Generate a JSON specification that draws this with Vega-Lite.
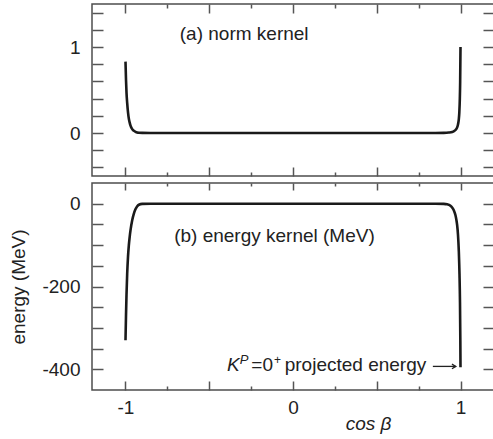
{
  "$schema": "https://vega.github.io/schema/vega-lite/v6.json",
  "padding": {"left": 9, "top": 2, "right": 0, "bottom": 0},
  "spacing": 3,
  "config": {
    "view": {"stroke": "#4d4d4d", "strokeWidth": 1.5},
    "font": "Liberation Sans",
    "axis": {
      "domain": false, "grid": false, "ticks": true,
      "tickColor": "#555555", "tickWidth": 1.5,
      "labelFont": "Liberation Sans", "labelFontSize": 19, "labelColor": "#222222",
      "titleFont": "Liberation Sans", "titleFontSize": 19, "titleFontWeight": "normal", "titleColor": "#222222"
    }
  },
  "datasets": {
    "norm": [
      {"cosb": -1, "v": 0.83}, {"cosb": -0.997, "v": 0.62}, {"cosb": -0.994, "v": 0.47},
      {"cosb": -0.99, "v": 0.35}, {"cosb": -0.985, "v": 0.24}, {"cosb": -0.98, "v": 0.165},
      {"cosb": -0.975, "v": 0.12}, {"cosb": -0.97, "v": 0.085}, {"cosb": -0.96, "v": 0.045},
      {"cosb": -0.95, "v": 0.025}, {"cosb": -0.94, "v": 0.013}, {"cosb": -0.93, "v": 0.006},
      {"cosb": -0.92, "v": 0.003}, {"cosb": -0.9, "v": 0.001}, {"cosb": -0.85, "v": 0},
      {"cosb": 0, "v": 0}, {"cosb": 0.85, "v": 0}, {"cosb": 0.9, "v": 0.001},
      {"cosb": 0.93, "v": 0.005}, {"cosb": 0.95, "v": 0.012}, {"cosb": 0.96, "v": 0.02},
      {"cosb": 0.97, "v": 0.035}, {"cosb": 0.98, "v": 0.065}, {"cosb": 0.985, "v": 0.1},
      {"cosb": 0.99, "v": 0.16}, {"cosb": 0.993, "v": 0.24}, {"cosb": 0.996, "v": 0.4},
      {"cosb": 0.998, "v": 0.6}, {"cosb": 1, "v": 1.0}
    ],
    "energy": [
      {"cosb": -1, "v": -330}, {"cosb": -0.997, "v": -270}, {"cosb": -0.994, "v": -220},
      {"cosb": -0.99, "v": -170}, {"cosb": -0.985, "v": -128}, {"cosb": -0.98, "v": -100},
      {"cosb": -0.975, "v": -80}, {"cosb": -0.97, "v": -64}, {"cosb": -0.96, "v": -40},
      {"cosb": -0.95, "v": -24}, {"cosb": -0.94, "v": -13}, {"cosb": -0.93, "v": -6},
      {"cosb": -0.92, "v": -2.5}, {"cosb": -0.9, "v": -0.5}, {"cosb": -0.85, "v": 0},
      {"cosb": 0, "v": 0}, {"cosb": 0.85, "v": 0}, {"cosb": 0.9, "v": -0.5},
      {"cosb": 0.92, "v": -1.5}, {"cosb": 0.94, "v": -5}, {"cosb": 0.95, "v": -9},
      {"cosb": 0.96, "v": -16}, {"cosb": 0.97, "v": -28}, {"cosb": 0.975, "v": -38},
      {"cosb": 0.98, "v": -52}, {"cosb": 0.985, "v": -75}, {"cosb": 0.99, "v": -115},
      {"cosb": 0.994, "v": -170}, {"cosb": 0.997, "v": -240}, {"cosb": 0.999, "v": -330},
      {"cosb": 1, "v": -395}
    ]
  },
  "vconcat": [
    {
      "width": 402, "height": 172,
      "layer": [
        {
          "data": {"name": "norm"},
          "mark": {"type": "line", "color": "#1a1a1a", "strokeWidth": 2.6, "interpolate": "monotone", "clip": true},
          "encoding": {
            "x": {"field": "cosb", "type": "quantitative",
              "scale": {"domain": [-1.2, 1.2], "nice": false, "zero": false},
              "axis": {"orient": "bottom", "values": [-1, -0.75, -0.5, -0.25, 0, 0.25, 0.5, 0.75, 1], "labels": false, "title": null,
                "tickSize": {"condition": {"test": "abs(datum.value) == 0.25 || abs(datum.value) == 0.75", "value": -4}, "value": -9}}},
            "y": {"field": "v", "type": "quantitative",
              "scale": {"domain": [-0.5, 1.5], "nice": false},
              "axis": {"orient": "left", "values": [-0.4, -0.2, 0, 0.2, 0.4, 0.6, 0.8, 1, 1.2, 1.4], "tickSize": -11, "labelPadding": 23,
                "labelExpr": "datum.value == 0 ? '0' : datum.value == 1 ? '1' : ''", "title": null}}
          }
        },
        {
          "data": {"name": "norm"},
          "mark": {"type": "line", "opacity": 0},
          "encoding": {
            "x": {"field": "cosb", "type": "quantitative",
              "axis": {"orient": "top", "values": [-1, -0.75, -0.5, -0.25, 0, 0.25, 0.5, 0.75, 1], "labels": false, "title": null,
                "tickSize": {"condition": {"test": "abs(datum.value) == 0.25 || abs(datum.value) == 0.75", "value": -4}, "value": -9}}},
            "y": {"field": "v", "type": "quantitative",
              "axis": {"orient": "right", "values": [-0.4, -0.2, 0, 0.2, 0.4, 0.6, 0.8, 1, 1.2, 1.4], "tickSize": -11, "labels": false, "title": null}}
          }
        },
        {
          "data": {"values": [{"x": -0.676, "y": 1.081, "label": "(a) norm kernel"}]},
          "mark": {"type": "text", "align": "left", "baseline": "alphabetic", "fontSize": 19, "font": "Liberation Sans", "color": "#222222"},
          "encoding": {
            "x": {"field": "x", "type": "quantitative", "axis": null},
            "y": {"field": "y", "type": "quantitative", "axis": null},
            "text": {"field": "label"}
          }
        }
      ],
      "resolve": {"axis": {"x": "independent", "y": "independent"}}
    },
    {
      "width": 402, "height": 207,
      "layer": [
        {
          "data": {"name": "energy"},
          "mark": {"type": "line", "color": "#1a1a1a", "strokeWidth": 2.6, "interpolate": "monotone", "clip": true},
          "encoding": {
            "x": {"field": "cosb", "type": "quantitative",
              "scale": {"domain": [-1.2, 1.2], "nice": false, "zero": false},
              "axis": {"orient": "bottom", "values": [-1, -0.75, -0.5, -0.25, 0, 0.25, 0.5, 0.75, 1], "labelPadding": 17,
                "labelExpr": "datum.value == -1 ? '-1' : datum.value == 0 ? '0' : datum.value == 1 ? '1' : ''",
                "tickSize": {"condition": {"test": "abs(datum.value) == 0.25 || abs(datum.value) == 0.75", "value": -4}, "value": -9},
                "title": "cos β", "titleFontStyle": "italic", "titleX": 276, "titleY": 39, "titleAlign": "center", "titleBaseline": "alphabetic"}},
            "y": {"field": "v", "type": "quantitative",
              "scale": {"domain": [-450, 50], "nice": false, "zero": false},
              "axis": {"orient": "left", "values": [-400, -350, -300, -250, -200, -150, -100, -50, 0], "tickSize": -11, "labelPadding": 23,
                "labelExpr": "datum.value == 0 ? '0' : datum.value == -200 ? '-200' : datum.value == -400 ? '-400' : ''",
                "title": "energy (MeV)", "titlePadding": 13}}
          }
        },
        {
          "data": {"name": "energy"},
          "mark": {"type": "line", "opacity": 0},
          "encoding": {
            "x": {"field": "cosb", "type": "quantitative",
              "axis": {"orient": "top", "values": [-1, -0.75, -0.5, -0.25, 0, 0.25, 0.5, 0.75, 1], "labels": false, "title": null,
                "tickSize": {"condition": {"test": "abs(datum.value) == 0.25 || abs(datum.value) == 0.75", "value": -3}, "value": -7}}},
            "y": {"field": "v", "type": "quantitative",
              "axis": {"orient": "right", "values": [-400, -350, -300, -250, -200, -150, -100, -50, 0], "tickSize": -11, "labels": false, "title": null}}
          }
        },
        {
          "data": {"values": [
            {"x": -0.7096, "y": -93, "label": "(b) energy kernel (MeV)", "size": 19},
            {"x": -0.249, "y": -403, "label": "=0", "size": 19},
            {"x": -0.114, "y": -386, "label": "+", "size": 12},
            {"x": -0.0495, "y": -403, "label": "projected energy", "size": 19}
          ]},
          "mark": {"type": "text", "align": "left", "baseline": "alphabetic", "font": "Liberation Sans", "color": "#222222"},
          "encoding": {
            "x": {"field": "x", "type": "quantitative", "axis": null},
            "y": {"field": "y", "type": "quantitative", "axis": null},
            "text": {"field": "label"},
            "size": {"field": "size", "type": "quantitative", "scale": null, "legend": null}
          }
        },
        {
          "data": {"values": [
            {"x": -0.3936, "y": -403, "label": "K", "size": 19},
            {"x": -0.318, "y": -386, "label": "P", "size": 13}
          ]},
          "mark": {"type": "text", "align": "left", "baseline": "alphabetic", "font": "Liberation Sans", "fontStyle": "italic", "color": "#222222"},
          "encoding": {
            "x": {"field": "x", "type": "quantitative", "axis": null},
            "y": {"field": "y", "type": "quantitative", "axis": null},
            "text": {"field": "label"},
            "size": {"field": "size", "type": "quantitative", "scale": null, "legend": null}
          }
        },
        {
          "data": {"values": [{"x": 0.835, "x2": 0.972, "y": -393}]},
          "mark": {"type": "rule", "color": "#222222", "strokeWidth": 1.3},
          "encoding": {
            "x": {"field": "x", "type": "quantitative", "axis": null},
            "x2": {"field": "x2"},
            "y": {"field": "y", "type": "quantitative", "axis": null}
          }
        },
        {
          "data": {"values": [{"x": 0.972, "y": -393}]},
          "mark": {"type": "point", "shape": "M-1,-0.6L0,0L-1,0.6", "filled": false, "stroke": "#222222", "strokeWidth": 1.3, "size": 60, "opacity": 1},
          "encoding": {
            "x": {"field": "x", "type": "quantitative", "axis": null},
            "y": {"field": "y", "type": "quantitative", "axis": null}
          }
        }
      ],
      "resolve": {"axis": {"x": "independent", "y": "independent"}}
    }
  ]
}
